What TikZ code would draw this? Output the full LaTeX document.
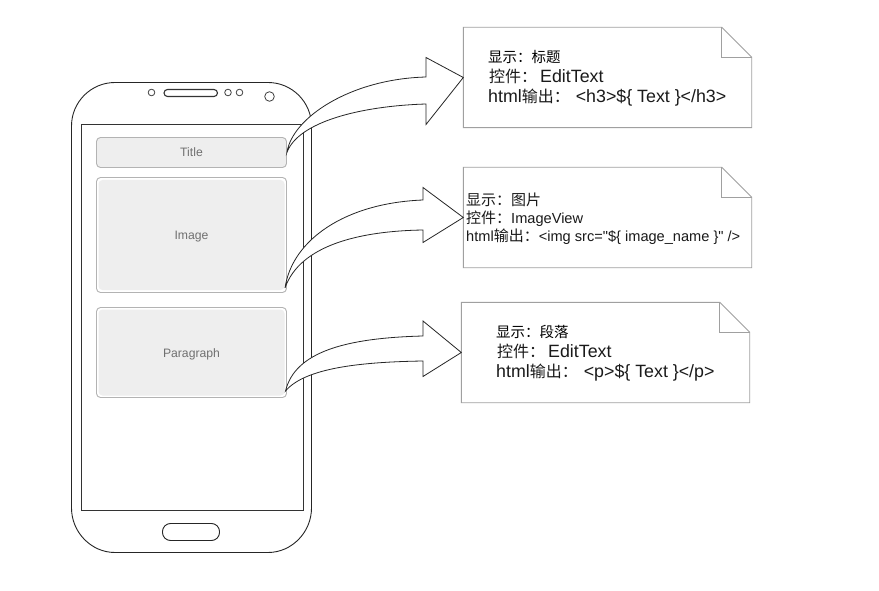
\documentclass[tikz,border=0pt]{standalone}
\usepackage{fontspec}
\setmainfont{Liberation Sans}
\newfontfamily\plainfont{Liberation Sans}
\newfontfamily\cjk{Noto Sans CJK SC}
\newcommand{\cjkbig}{\cjk\fontsize{16}{18}\selectfont}
\newcommand{\cjkmid}{\cjk\fontsize{15}{17}\selectfont}
\definecolor{boxfill}{HTML}{EEEEEE}
\definecolor{boxline}{HTML}{B3B3B3}
\definecolor{notetext}{HTML}{1A1A1A}
\definecolor{labeltext}{HTML}{707070}
\definecolor{noteline}{HTML}{A0A0A0}
\tikzset{
  phoneline/.style={draw=black!85,line width=0.9pt},
  wid/.style={draw=boxline,fill=boxfill,rounded corners=4pt,line width=0.9pt,inner sep=0pt,font=\fontsize{12.2}{14}\selectfont,text=labeltext,align=center,text height=9pt,text depth=0pt},
  frame/.style={draw=boxline,rounded corners=4pt,line width=0.9pt},
  notebody/.style={draw=noteline,fill=white,line width=0.9pt},
  notefold/.style={draw=noteline,line width=0.9pt},
  flow/.style={draw=black!85,fill=white,line width=0.8pt,line join=miter},
  anchorbox/.style={inner sep=0pt,minimum width=288pt,minimum height=100pt},
  big/.style={anchor=west,inner sep=0pt,text=notetext,font=\fontsize{17.8}{18}\selectfont},
  small/.style={anchor=west,inner sep=0pt,text=notetext,font=\fontsize{14.6}{16}\selectfont},
  tiny/.style={anchor=west,inner sep=0pt,text=black,font=\fontsize{14.5}{15}\selectfont},
}
\begin{document}
\begin{tikzpicture}[x=1pt,y=-1pt]
\useasboundingbox (0,0) rectangle (879,591);
\fill[white] (0,0) rectangle (879,591);
% phone
\draw[phoneline] (115,82.5) -- (268,82.5) .. controls (292,82.5) and (311.5,102) .. (311.5,126)
  -- (311.5,508) .. controls (311.5,532) and (292,552.5) .. (268,552.5)
  -- (115,552.5) .. controls (91,552.5) and (71.5,532) .. (71.5,508)
  -- (71.5,126) .. controls (71.5,102) and (91,82.5) .. (115,82.5) -- cycle;
\draw[draw=black!80,line width=1.2pt] (81.5,124.5) rectangle (303.5,510.5);
\draw[draw=black!80,line width=1.1pt,rounded corners=3.5pt] (164,89.5) rectangle (217.5,96.5);
\draw[draw=black!75,line width=0.8pt] (151.5,92.5) circle (3.3);
\draw[draw=black!75,line width=0.8pt] (228,92.5) circle (3.3);
\draw[draw=black!75,line width=0.8pt] (239.5,92.5) circle (3.3);
\draw[draw=black!75,line width=0.8pt] (269.5,96.5) circle (4.8);
\draw[phoneline,rounded corners=8pt] (162.5,523.5) rectangle (219.5,540.5);
% widgets
\node[wid,minimum width=190pt,minimum height=30pt] (title) at (191.5,152.5) {Title};
\node[wid,draw=none,minimum width=186pt,minimum height=110pt] (image) at (191.5,235) {Image};
\draw[frame] (96.5,177.5) rectangle (286.5,292.5);
\node[wid,draw=none,minimum width=186pt,minimum height=86pt] (para) at (191.5,352.5) {Paragraph};
\draw[frame] (96.5,307.5) rectangle (286.5,397.5);
% notes
\node[anchorbox] (noteA) at (607.5,77.5) {};
\node[anchorbox] (noteB) at (607.5,217.5) {};
\node[anchorbox] (noteC) at (605.5,352.5) {};
\foreach \n in {noteA,noteB,noteC}{
  \draw[notebody] (\n.north west) -- ([xshift=-30pt]\n.north east) -- ([yshift=-30pt]\n.north east) -- (\n.south east) -- (\n.south west) -- cycle;
  \draw[notefold] ([xshift=-30pt]\n.north east) -- ([xshift=-30pt,yshift=-30pt]\n.north east) -- ([yshift=-30pt]\n.north east);
}
% arrows
\draw[flow] (title.east) .. controls (292,118) and (350,79) .. (426,77) -- (426,57.5) -- (noteA.west)
  -- (426,124.5) -- (426,104) .. controls (360,106) and (298,122) .. (title.east) -- cycle;
\draw[flow] (285,288) .. controls (292,240) and (345,203) .. (423,200) -- (423,187.5) -- (noteB.west)
  -- (423,242.5) -- (423,230) .. controls (360,231) and (300,245) .. (285,288) -- cycle;
\draw[flow] (285.5,391) .. controls (295,352) and (345,338) .. (423,336) -- (423,321) -- (noteC.west)
  -- (423,376.5) -- (423,361) .. controls (360,362) and (305,368) .. (285.5,391) -- cycle;
% note text
\node[tiny] (a1) at (488,57) {\cjk 显示：标题};
\node[big] (a2) at (489,76) {{\cjkbig 控件：}\,EditText};
\node[big] (a3) at (488,97.5) {html{\cjkbig 输出：}\hspace{6pt}<h3>\$\{ Text \}</h3>};
\node[small] (b1) at (466,199.5) {{\cjkmid 显示：图片}};
\node[small] (b2) at (466,218.5) {{\cjkmid 控件：}ImageView};
\node[small] (b3) at (466,237) {html{\cjkmid 输出：}<img src={\plainfont"}\$\{ image\_name \}{\plainfont"} />};
\node[tiny] (c1) at (496,331.5) {\cjk 显示：段落};
\node[big] (c2) at (497,351) {{\cjkbig 控件：}\,EditText};
\node[big] (c3) at (496,372.5) {html{\cjkbig 输出：}\hspace{6pt}<p>\$\{ Text \}</p>};
\end{tikzpicture}
\end{document}
